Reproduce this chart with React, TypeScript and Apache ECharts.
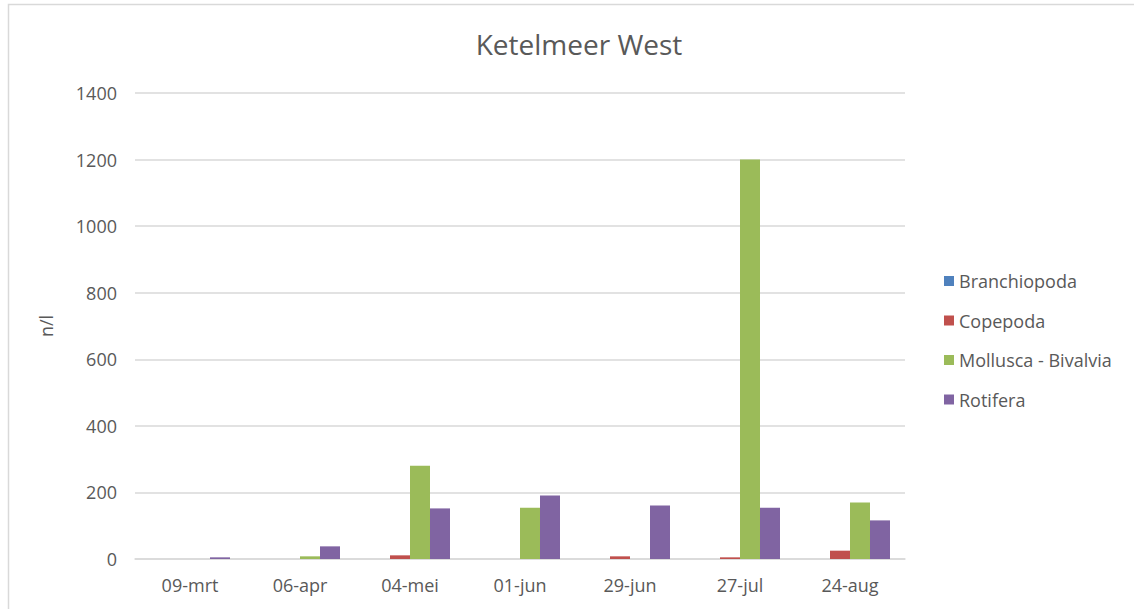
import React, { useEffect, useRef } from "react";
import * as echarts from "echarts";

const categories = ["09-mrt", "06-apr", "04-mei", "01-jun", "29-jun", "27-jul", "24-aug"];
const branchiopoda = [0, 0, 0, 0, 0, 0, 0];
const copepoda = [0, 0, 11, 0, 8, 5, 25];
const mollusca = [0, 8, 280, 154, 0, 1200, 170];
const rotifera = [5, 38, 152, 191, 161, 154, 116];
const yTicks = { min: 0, max: 1400, interval: 200 };

const FONT = "'Open Sans', 'Noto Sans', sans-serif";
const TXT = "#595959";

export default function App() {
  const ref = useRef<HTMLDivElement>(null);
  useEffect(() => {
    if (!ref.current) return;
    const chart = echarts.init(ref.current, null, { renderer: "svg" });
    const mk = (name: string, data: number[], color: string) => ({
      name,
      type: "bar",
      data,
      barWidth: 20,
      barGap: "0%",
      itemStyle: { color },
    });
    chart.setOption({
      animation: false,
      backgroundColor: "#ffffff",
      textStyle: { fontFamily: FONT },
      title: {
        text: "Ketelmeer West",
        left: 574,
        top: 25,
        textAlign: "center",
        textStyle: { fontSize: 28, fontWeight: "normal", color: TXT, fontFamily: FONT },
      },
      graphic: [
        {
          type: "rect",
          shape: { x: 8.5, y: 4.5, width: 1300, height: 800 },
          style: { fill: "none", stroke: "#d9d9d9", lineWidth: 1.5 },
          silent: true,
        },
      ],
      legend: {
        orient: "vertical",
        left: 939,
        top: 267,
        itemWidth: 10,
        itemHeight: 10,
        itemGap: 21.5,
        icon: "rect",
        textStyle: { fontSize: 18, color: TXT, fontFamily: FONT },
        data: ["Branchiopoda", "Copepoda", "Mollusca - Bivalvia", "Rotifera"],
      },
      grid: { left: 135, top: 93, width: 770, height: 466, containLabel: false },
      xAxis: {
        type: "category",
        data: categories,
        axisLine: { lineStyle: { color: "#d9d9d9", width: 1.5 } },
        axisTick: { show: false },
        axisLabel: { fontSize: 18, color: TXT, margin: 17, fontFamily: FONT },
      },
      yAxis: {
        type: "value",
        min: yTicks.min,
        max: yTicks.max,
        interval: yTicks.interval,
        name: "n/l",
        nameLocation: "middle",
        nameGap: 80,
        nameTextStyle: { fontSize: 18, color: TXT, fontFamily: FONT },
        axisLine: { show: false },
        axisTick: { show: false },
        splitLine: { lineStyle: { color: "#d9d9d9", width: 1.5 } },
        axisLabel: {
          fontSize: 18,
          color: TXT,
          margin: 18,
          fontFamily: FONT,
          formatter: (v: number) => String(v),
        },
      },
      series: [
        mk("Branchiopoda", branchiopoda, "#4f81bd"),
        mk("Copepoda", copepoda, "#c0504d"),
        mk("Mollusca - Bivalvia", mollusca, "#9bbb59"),
        mk("Rotifera", rotifera, "#8064a2"),
      ],
    });
    return () => chart.dispose();
  }, []);
  return (
    <div
      ref={ref}
      style={{ position: "fixed", left: 0, top: 0, width: 1134, height: 609 }}
    />
  );
}
